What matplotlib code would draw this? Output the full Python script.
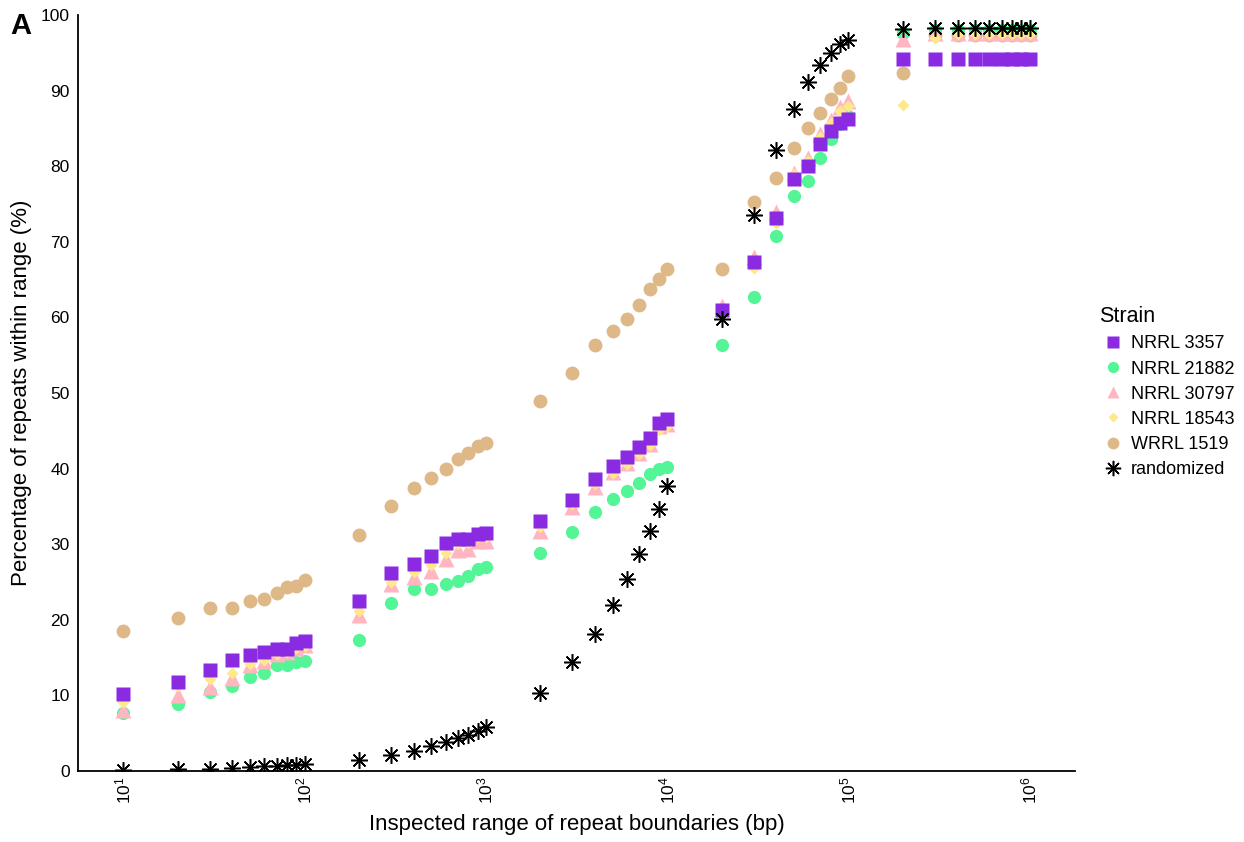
import numpy as np
import matplotlib.pyplot as plt
from matplotlib.lines import Line2D

plt.rcParams['font.family'] = ['Liberation Sans', 'DejaVu Sans']
plt.rcParams['mathtext.fontset'] = 'custom'
plt.rcParams['mathtext.rm'] = 'Liberation Sans'
plt.rcParams['mathtext.it'] = 'Liberation Sans'

# inspected range (bp)
x = [10, 20, 30, 40, 50, 60, 70, 80, 90, 100,
     200, 300, 400, 500, 600, 700, 800, 900, 1000,
     2000, 3000, 4000, 5000, 6000, 7000, 8000, 9000, 10000,
     20000, 30000, 40000, 50000, 60000, 70000, 80000, 90000, 100000,
     200000, 300000, 400000, 500000, 600000, 700000, 800000, 900000, 1000000]

nrrl3357 = [10.2, 11.8, 13.3, 14.7, 15.3, 15.7, 16.1, 16.2, 16.9, 17.2,
            22.5, 26.2, 27.4, 28.4, 30.2, 30.7, 30.7, 31.4, 31.5,
            33.1, 35.9, 38.6, 40.4, 41.6, 42.9, 44.1, 46.0, 46.6,
            61.0, 67.3, 73.2, 78.3, 80.0, 82.9, 84.7, 85.7, 86.2,
            94.2, 94.2, 94.2, 94.2, 94.2, 94.2, 94.2, 94.2, 94.2]
nrrl21882 = [7.7, 8.8, 10.5, 11.2, 12.5, 12.9, 14.0, 14.0, 14.4, 14.6,
             17.3, 22.2, 24.1, 24.1, 24.8, 25.1, 25.8, 26.7, 27.0,
             28.8, 31.6, 34.3, 36.0, 37.0, 38.1, 39.3, 40.0, 40.2,
             56.4, 62.7, 70.8, 76.0, 78.1, 81.1, 83.6, 85.6, 86.6,
             97.6, 98.0, 98.0, 98.0, 98.0, 98.0, 98.0, 98.0, 98.0]
nrrl30797 = [8.1, 10.1, 11.1, 12.3, 14.0, 14.5, 15.5, 15.8, 16.3, 16.7,
             20.7, 24.8, 25.7, 26.4, 28.1, 29.2, 29.4, 30.4, 30.4,
             31.8, 34.9, 37.6, 39.6, 40.8, 42.0, 43.2, 45.6, 45.9,
             61.5, 68.0, 73.9, 79.1, 81.1, 84.2, 86.1, 87.8, 88.6,
             96.8, 97.6, 97.6, 97.6, 97.6, 97.6, 97.6, 97.6, 97.6]
nrrl18543 = [9.1, 11.2, 12.2, 12.9, 14.2, 14.7, 15.5, 15.8, 16.3, 16.6,
             21.1, 25.0, 26.3, 27.2, 28.9, 30.0, 30.2, 30.9, 31.0,
             32.3, 35.3, 37.9, 39.4, 40.6, 41.9, 43.1, 45.1, 45.7,
             60.6, 66.5, 72.5, 79.0, 80.7, 83.9, 85.7, 87.3, 87.9,
             88.1, 97.0, 97.5, 97.5, 97.5, 97.5, 97.5, 97.5, 97.5]
wrrl1519 = [18.5, 20.3, 21.5, 21.5, 22.5, 22.7, 23.5, 24.4, 24.5, 25.2,
            31.2, 35.0, 37.4, 38.8, 40.0, 41.3, 42.1, 43.0, 43.4,
            48.9, 52.7, 56.4, 58.2, 59.8, 61.7, 63.7, 65.1, 66.4,
            66.4, 75.2, 78.5, 82.4, 85.0, 87.1, 88.9, 90.3, 91.9,
            92.3, 97.3, 97.4, 97.4, 97.4, 97.4, 97.4, 97.4, 97.4]
randomized = [0.1, 0.2, 0.3, 0.4, 0.5, 0.6, 0.7, 0.8, 0.8, 0.9,
              1.5, 2.1, 2.7, 3.3, 3.8, 4.3, 4.8, 5.3, 5.8,
              10.3, 14.4, 18.1, 21.9, 25.4, 28.7, 31.8, 34.7, 37.7,
              59.8, 73.6, 82.1, 87.6, 91.1, 93.4, 95.0, 96.1, 96.7,
              98.2, 98.3, 98.3, 98.3, 98.3, 98.3, 98.3, 98.3, 98.3]

labels = ['NRRL 3357', 'NRRL 21882', 'NRRL 30797', 'NRRL 18543', 'WRRL 1519', 'randomized']
colors = ['#8A2BE2', '#54F597', '#FFB6C1', '#FFE88A', '#DEB887', 'black']
markers = ['s', 'o', '^', 'D', 'o', (8, 2, 0)]
msizes = [9.5, 9.5, 11, 6.5, 10, 12]
series = [nrrl3357, nrrl21882, nrrl30797, nrrl18543, wrrl1519, randomized]

fig = plt.figure(figsize=(12.44, 8.42), dpi=100)
ax = fig.add_axes([78/1244, 71/842, (1075-78)/1244, (771-15)/842])

for i in [4, 1, 2, 3, 0, 5]:
    if i == 5:
        ax.plot(x, series[i], linestyle='none', marker=markers[i], ms=msizes[i],
                mec=colors[i], mfc=colors[i], mew=1.1)
    else:
        ax.plot(x, series[i], linestyle='none', marker=markers[i], ms=msizes[i],
                color=colors[i], mec='none')

ax.set_xscale('log')
ax.set_xlim(10**0.75, 10**6.25)
ax.set_ylim(0, 100)
ax.set_xticks([1e1, 1e2, 1e3, 1e4, 1e5, 1e6])
ax.set_xticklabels([r'$10^{%d}$' % k for k in range(1, 7)], rotation=90)
ax.minorticks_off()
ax.set_yticks(range(0, 101, 10))
ax.tick_params(axis='y', length=0, labelsize=12.5, colors='black', pad=6)
ax.tick_params(axis='x', length=0, labelsize=12.5, colors='black', pad=4)
for s in ['top', 'right']:
    ax.spines[s].set_visible(False)
for s in ['left', 'bottom']:
    ax.spines[s].set_linewidth(1.3)

ax.set_xlabel('Inspected range of repeat boundaries (bp)', fontsize=16, labelpad=7)
ax.set_ylabel('Percentage of repeats within range (%)', fontsize=16, labelpad=6)

fig.text(10/1244, 1 - 34/842, 'A', fontsize=21, fontweight='bold')

handles = []
for i in range(6):
    if i == 5:
        h = Line2D([], [], linestyle='none', marker=markers[i], ms=11,
                   mec=colors[i], mfc=colors[i], mew=1.1)
    else:
        h = Line2D([], [], linestyle='none', marker=markers[i], ms=msizes[i] * 0.85,
                   color=colors[i], mec='none')
    handles.append(h)
fig.legend(handles, labels, loc='upper left', bbox_to_anchor=(1083/1244, 1 - 290/842),
           frameon=False, title='Strain', alignment='left', fontsize=13,
           title_fontsize=15.5, handletextpad=0.25, labelspacing=0.45, handlelength=1.5)

fig.savefig('out.png', dpi=100)
